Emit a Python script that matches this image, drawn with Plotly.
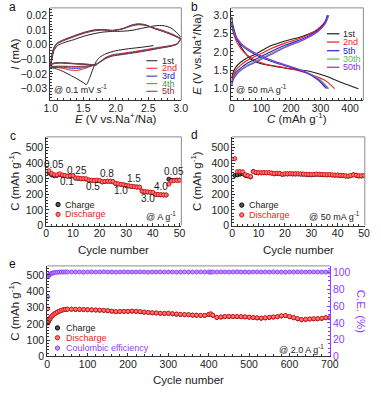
import plotly.graph_objects as go

FONT = "Liberation Sans, Arial, sans-serif"
W, H = 381, 393

# ---------- panel a: CV curves @ 0.1 mV/s (E in V, I in mA) ----------
CV_E_FLAT = [1.7, 1.55, 1.4, 1.25, 1.15, 1.05, 1.0]
CV_E_ANODIC = [1.0, 1.02, 1.05, 1.1, 1.2, 1.35, 1.5, 1.65, 1.8, 1.95, 2.1, 2.25, 2.35, 2.45, 2.6, 2.75, 2.9, 3.0]
CV_E_CATHODIC = [3.0, 2.95, 2.85, 2.7, 2.5, 2.3, 2.1, 1.95, 1.85, 1.75, 1.7, 1.6, 1.5, 1.4, 1.3, 1.2, 1.1, 1.0]

cv1_cath_e = [2.58, 2.4, 2.2, 2.0, 1.85, 1.75, 1.7, 1.65, 1.6, 1.55, 1.5, 1.4, 1.3, 1.2, 1.1, 1.0]
cv1_cath_i = [-0.0007, -0.0018, -0.0028, -0.0042, -0.0062, -0.0088, -0.0115, -0.0165, -0.0225, -0.0272,
              -0.0258, -0.0232, -0.0208, -0.0185, -0.0167, -0.0156]
cv1_anod_e = [1.0, 1.02, 1.05, 1.1, 1.2, 1.35, 1.5, 1.65, 1.8, 1.95, 2.1, 2.25, 2.4, 2.55, 2.65, 2.75, 2.85, 2.95, 3.0]
cv1_anod_i = [-0.0156, -0.0095, -0.004, -0.0008, 0.0013, 0.0033, 0.0056, 0.0073, 0.0085, 0.009, 0.0091,
              0.0097, 0.0111, 0.0124, 0.013, 0.0128, 0.0113, 0.0077, 0.005]

cv2_flat = [-0.0138, -0.0133, -0.0129, -0.0125, -0.0122, -0.0126, -0.0135]
cv2_anod = [-0.0135, -0.0075, -0.0025, 0.0005, 0.0027, 0.0052, 0.0075, 0.0092, 0.0099, 0.0095, 0.0106,
            0.0128, 0.0135, 0.0131, 0.0113, 0.0093, 0.0066, 0.0042]
cv2_cath = [0.0042, 0.0008, -0.0006, -0.0016, -0.0031, -0.0046, -0.0059, -0.0069, -0.0086, -0.0118,
            -0.0133, -0.015, -0.0166, -0.0176, -0.0173, -0.0163, -0.0156, -0.0156]

cv3_flat = [-0.0139, -0.0134, -0.013, -0.0126, -0.0123, -0.0127, -0.0136]
cv3_anod = [-0.0136, -0.0072, -0.0022, 0.0008, 0.003, 0.0055, 0.0078, 0.0095, 0.0101, 0.0096, 0.0108,
            0.0134, 0.0142, 0.0136, 0.011, 0.0088, 0.0062, 0.004]
cv3_cath = [0.004, 0.0006, -0.0009, -0.002, -0.0036, -0.0051, -0.0064, -0.0074, -0.009, -0.012,
            -0.0134, -0.0147, -0.0157, -0.0162, -0.016, -0.0155, -0.0152, -0.0153]

cv4_flat = [-0.014, -0.0135, -0.0131, -0.0127, -0.0124, -0.0128, -0.0137]
cv4_anod = [-0.0137, -0.007, -0.002, 0.001, 0.0032, 0.0057, 0.008, 0.0097, 0.0102, 0.0096, 0.0107,
            0.0131, 0.0138, 0.0134, 0.0109, 0.0087, 0.0061, 0.0039]
cv4_cath = [0.0039, 0.0005, -0.001, -0.0022, -0.0038, -0.0053, -0.0066, -0.0076, -0.0092, -0.0121,
            -0.0135, -0.0145, -0.0151, -0.0154, -0.0153, -0.015, -0.0149, -0.015]

cv5_flat = [-0.0141, -0.0136, -0.0132, -0.0128, -0.0125, -0.0129, -0.0138]
cv5_anod = [-0.0138, -0.0068, -0.0018, 0.0012, 0.0034, 0.0059, 0.0082, 0.0099, 0.0103, 0.0097, 0.0107,
            0.013, 0.0137, 0.0133, 0.0108, 0.0086, 0.006, 0.0038]
cv5_cath = [0.0038, 0.0004, -0.0011, -0.0023, -0.004, -0.0055, -0.0068, -0.0078, -0.0094, -0.0122,
            -0.0136, -0.0143, -0.0147, -0.0149, -0.0148, -0.0147, -0.0147, -0.0148]

# ---------- panel b: charge/discharge profiles @ 50 mA/g ----------
gcd1_chg_c = [0, 5, 15, 30, 50, 75, 100, 130, 180, 240, 295, 318, 328]
gcd1_chg_e = [1.3, 1.45, 1.6, 1.72, 1.83, 1.92, 2.03, 2.16, 2.3, 2.43, 2.62, 2.82, 3.0]
gcd1_dis_c = [0, 2, 8, 18, 40, 72, 115, 180, 266, 320, 373, 428]
gcd1_dis_e = [2.95, 2.8, 2.6, 2.35, 2.03, 1.76, 1.65, 1.56, 1.47, 1.34, 1.16, 1.0]

gcd2_chg_c = [0, 5, 15, 30, 50, 75, 100, 130, 180, 240, 290, 315, 325]
gcd2_chg_e = [1.22, 1.38, 1.52, 1.64, 1.76, 1.86, 1.96, 2.08, 2.24, 2.4, 2.62, 2.82, 3.0]
gcd2_dis_c = [0, 2, 8, 18, 40, 72, 110, 160, 220, 280, 320, 348]
gcd2_dis_e = [2.8, 2.65, 2.45, 2.25, 2.0, 1.8, 1.68, 1.6, 1.5, 1.35, 1.2, 1.0]

gcd5_chg_c = [0, 5, 15, 30, 50, 75, 100, 130, 180, 240, 290, 315, 323]
gcd5_chg_e = [1.15, 1.3, 1.45, 1.56, 1.68, 1.78, 1.88, 2.0, 2.18, 2.36, 2.58, 2.8, 3.0]
gcd5_dis_c = [0, 2, 8, 18, 40, 70, 100, 150, 200, 250, 290, 320]
gcd5_dis_e = [2.78, 2.65, 2.5, 2.32, 2.13, 1.97, 1.85, 1.7, 1.58, 1.44, 1.25, 1.0]

gcd30_chg_c = [0, 5, 15, 30, 50, 75, 100, 130, 180, 240, 292, 318, 327]
gcd30_chg_e = [1.12, 1.26, 1.4, 1.52, 1.63, 1.73, 1.83, 1.95, 2.14, 2.33, 2.56, 2.78, 3.0]
gcd30_dis_c = [0, 2, 8, 18, 40, 70, 100, 150, 200, 250, 295, 328]
gcd30_dis_e = [2.8, 2.68, 2.53, 2.36, 2.16, 2.0, 1.88, 1.72, 1.6, 1.46, 1.27, 1.0]

gcd50_chg_c = [0, 5, 15, 30, 50, 75, 100, 130, 180, 240, 290, 316, 325]
gcd50_chg_e = [1.1, 1.24, 1.37, 1.49, 1.6, 1.7, 1.8, 1.92, 2.12, 2.32, 2.55, 2.78, 3.0]
gcd50_dis_c = [0, 2, 8, 18, 40, 70, 100, 150, 200, 250, 292, 325]
gcd50_dis_e = [2.8, 2.68, 2.54, 2.37, 2.17, 2.01, 1.89, 1.73, 1.6, 1.45, 1.26, 1.0]

# ---------- panel c: rate capability ----------
rate_cycles = list(range(1, 51))
rate_chg = [338, 325, 320, 322, 328, 322, 320, 316, 318, 319, 304, 303, 300, 300, 299,
            291, 290, 289, 290, 288, 280, 283, 284, 284, 282, 270, 267, 264, 261, 257,
            254, 251, 249, 247, 246, 220, 217, 215, 214, 212, 200, 198, 197, 196, 196,
            298, 291, 291, 292, 292]
rate_dis = [352, 335, 327, 326, 333, 325, 322, 318, 320, 321, 306, 305, 301, 302, 300,
            293, 291, 290, 292, 289, 281, 284, 286, 285, 283, 271, 268, 265, 262, 258,
            255, 252, 250, 248, 247, 221, 218, 216, 215, 213, 201, 199, 198, 197, 197,
            266, 286, 290, 290, 291]
rate_labels = ["0.05", "0.1", "0.25", "0.5", "0.8", "1.0", "1.5", "3.0", "4.0", "0.05"]
rate_label_x = [3, 7.8, 11.5, 17.7, 22.9, 28, 33, 38, 43, 48]
rate_label_y = [392, 280, 355, 250, 335, 222, 300, 173, 248, 350]

# ---------- panel d: cycling @ 50 mA/g ----------
cyc_cycles = list(range(1, 51))
cyc_chg = [322, 325, 330, 333, 322, 318, 312, 348, 340, 338, 338, 339, 338, 338, 336,
           332, 335, 334, 328, 331, 331, 332, 331, 331, 331, 330, 329, 328, 327, 326,
           327, 329, 328, 327, 326, 325, 326, 324, 323, 323, 321, 320, 318, 316, 320,
           326, 322, 318, 318, 320]
cyc_dis = [430, 347, 347, 346, 327, 321, 315, 346, 342, 340, 340, 341, 340, 340, 338,
           334, 337, 336, 330, 333, 333, 334, 333, 333, 333, 332, 331, 330, 329, 328,
           329, 331, 330, 329, 328, 327, 328, 326, 325, 325, 323, 322, 320, 318, 322,
           326, 324, 320, 320, 322]

# ---------- panel e: long cycling @ 2.0 A/g ----------
long_cycles = [1, 2, 3, 5, 7, 10, 13, 16, 20, 25, 30, 35, 40, 45, 50,
               60, 70, 80, 90, 100, 110, 120, 130, 140, 150, 160, 170, 180, 190, 200,
               210, 220, 230, 240, 250, 260, 270, 280, 290, 300, 310, 320, 330, 340, 350,
               360, 370, 380, 390, 400, 405, 410, 420, 430, 440, 450, 460, 470, 480, 490,
               500, 510, 520, 530, 540, 550, 560, 570, 580, 590, 600, 610, 620, 630, 640,
               650, 660, 670, 680, 690, 700]
long_dis = [292, 212, 218, 226, 234, 243, 251, 258, 265, 272, 278, 283, 287, 289, 290,
            290, 289, 289, 288, 287, 286, 285, 284, 283, 281, 278, 275, 276, 277, 277,
            278, 277, 275, 272, 270, 268, 267, 265, 264, 265, 262, 260, 258, 257, 256,
            254, 253, 252, 252, 258, 261, 253, 240, 242, 245, 246, 245, 245, 244, 243,
            241, 239, 237, 235, 237, 240, 242, 244, 249, 251, 245, 238, 232, 226, 228,
            230, 231, 232, 234, 238, 238]
long_chg = [204, 208, 215, 224, 232, 242, 250, 257, 264, 271, 277, 282, 286, 288, 289,
            289, 288, 288, 287, 286, 285, 284, 283, 282, 280, 277, 274, 275, 276, 276,
            277, 276, 274, 271, 269, 267, 266, 264, 263, 264, 261, 259, 257, 256, 255,
            253, 252, 251, 251, 257, 260, 252, 239, 241, 244, 245, 244, 244, 243, 242,
            240, 238, 236, 234, 236, 239, 241, 243, 248, 250, 244, 237, 231, 225, 227,
            229, 230, 231, 233, 237, 237]
long_ce = [71, 95, 96.5, 97.5, 98.2, 98.9, 99.4, 99.8, 100.1, 100.4, 100.6, 100.7, 100.6, 100.8, 100.7,
           100.6, 100.8, 100.7, 100.5, 100.7, 100.8, 100.6, 100.7, 100.9, 100.6, 100.7, 100.5, 100.7, 100.8, 100.6,
           100.7, 100.6, 100.8, 100.7, 100.5, 100.7, 100.6, 100.8, 100.7, 100.6, 100.7, 100.5, 100.6, 100.8, 100.7,
           100.6, 100.7, 100.8, 100.6, 100.7, 100.5, 100.7, 100.6, 100.8, 100.7, 100.6, 100.7, 100.9, 100.6, 100.7,
           100.5, 100.7, 100.8, 100.6, 100.7, 100.6, 100.8, 100.7, 100.6, 100.5, 100.7, 100.6, 100.8, 100.7, 100.6,
           100.7, 100.8, 100.6, 100.7, 100.6, 100.7]

BLACK = "#1e1e1e"
RED = "#f01c1c"
BLUE = "#2222cc"
GREEN = "#3c9c3c"
GREEN_LT = "#5cb85c"
MAROON = "#8b2a45"
PURPLE = "#8a30e8"
CE_PURPLE = "#8f3cff"
FRAME = "#8c8c8c"


def fx(p):
    return p / W


def fy(p):
    return 1 - p / H


fig = go.Figure()

# panel a traces
fig.add_trace(go.Scatter(x=cv1_cath_e + cv1_anod_e, y=cv1_cath_i + cv1_anod_i, mode="lines",
                         line=dict(color=BLACK, width=1, shape="spline", smoothing=0.6),
                         xaxis="x", yaxis="y"))
for fl, an, ca, col in [(cv2_flat, cv2_anod, cv2_cath, RED), (cv3_flat, cv3_anod, cv3_cath, BLUE),
                        (cv4_flat, cv4_anod, cv4_cath, GREEN), (cv5_flat, cv5_anod, cv5_cath, MAROON)]:
    fig.add_trace(go.Scatter(x=CV_E_FLAT + CV_E_ANODIC + CV_E_CATHODIC, y=fl + an + ca, mode="lines",
                             line=dict(color=col, width=1, shape="spline", smoothing=0.6),
                             xaxis="x", yaxis="y"))

# panel b traces
for cc, ce, dc, de, col in [
    (gcd1_chg_c, gcd1_chg_e, gcd1_dis_c, gcd1_dis_e, BLACK),
    (gcd2_chg_c, gcd2_chg_e, gcd2_dis_c, gcd2_dis_e, RED),
    (gcd5_chg_c, gcd5_chg_e, gcd5_dis_c, gcd5_dis_e, BLUE),
    (gcd30_chg_c, gcd30_chg_e, gcd30_dis_c, gcd30_dis_e, GREEN_LT),
    (gcd50_chg_c, gcd50_chg_e, gcd50_dis_c, gcd50_dis_e, PURPLE),
]:
    for xs, ys in [(cc, ce), (dc, de)]:
        fig.add_trace(go.Scatter(x=xs, y=ys, mode="lines",
                                 line=dict(color=col, width=1.1, shape="spline", smoothing=0.8),
                                 xaxis="x2", yaxis="y2"))

CHG_MK = dict(size=4, color="#555", line=dict(color="#000", width=0.8))
DIS_MK = dict(size=4, color="#ff7a7a", line=dict(color="#e01010", width=0.9))
CE_MK = dict(size=4, color="#b890ff", line=dict(color=CE_PURPLE, width=0.9))

# panel c
fig.add_trace(go.Scatter(x=rate_cycles, y=rate_chg, mode="markers", marker=CHG_MK, xaxis="x3", yaxis="y3"))
fig.add_trace(go.Scatter(x=rate_cycles, y=rate_dis, mode="markers", marker=DIS_MK, xaxis="x3", yaxis="y3"))

# panel d
fig.add_trace(go.Scatter(x=cyc_cycles, y=cyc_chg, mode="markers", marker=CHG_MK, xaxis="x4", yaxis="y4"))
fig.add_trace(go.Scatter(x=cyc_cycles, y=cyc_dis, mode="markers", marker=DIS_MK, xaxis="x4", yaxis="y4"))

# panel e
fig.add_trace(go.Scatter(x=long_cycles, y=long_chg, mode="markers", marker=CHG_MK, xaxis="x5", yaxis="y5"))
fig.add_trace(go.Scatter(x=long_cycles, y=long_dis, mode="markers", marker=DIS_MK, xaxis="x5", yaxis="y5"))
fig.add_trace(go.Scatter(x=long_cycles, y=long_ce, mode="markers", marker=CE_MK, xaxis="x5", yaxis="y6"))


def ax(**kw):
    d = dict(showline=True, linecolor="#333", linewidth=1, ticks="inside", ticklen=3, tickwidth=1,
             tickcolor="#333", showgrid=False, zeroline=False,
             tickfont=dict(family=FONT, size=10.5, color="#222"),
             minor=dict(ticks="inside", ticklen=2, tickcolor="#333"))
    d.update(kw)
    return d


def xax(**kw):
    return ax(ticklabelstandoff=-2, **kw)


fig.update_layout(
    width=W, height=H, margin=dict(l=0, r=0, t=0, b=0),
    paper_bgcolor="white", plot_bgcolor="white", showlegend=False,
    font=dict(family=FONT, color="#222"),
    xaxis=xax(domain=[fx(45), fx(182)], range=[0.99, 3.01], tickvals=[1.0, 1.5, 2.0, 2.5, 3.0],
              tickformat=".1f", anchor="y"),
    yaxis=ax(domain=[fy(102), fy(8)], range=[-0.038, 0.025], dtick=0.01, tickformat=".2f", anchor="x"),
    xaxis2=xax(domain=[fx(234), fx(372)], range=[-2, 445], dtick=100, anchor="y2"),
    yaxis2=ax(domain=[fy(102), fy(8)], range=[0.68, 3.2], dtick=0.5, tickformat=".1f", anchor="x2"),
    xaxis3=xax(domain=[fx(41), fx(182)], range=[0, 50.7], dtick=10, anchor="y3"),
    yaxis3=ax(domain=[fy(229), fy(139)], range=[0, 570], dtick=100, anchor="x3"),
    xaxis4=xax(domain=[fx(235), fx(373.5)], range=[0, 50.3], dtick=10, anchor="y4"),
    yaxis4=ax(domain=[fy(229), fy(139)], range=[0, 570], dtick=100, anchor="x4"),
    xaxis5=xax(domain=[fx(42), fx(337)], range=[0, 700], dtick=100, anchor="y5"),
    yaxis5=ax(domain=[fy(362), fy(270)], range=[0, 555], dtick=100, anchor="x5"),
    yaxis6=ax(domain=[fy(362), fy(270)], range=[0, 108], dtick=20, anchor="x5", overlaying="y5",
              side="right", linecolor=CE_PURPLE, tickcolor=CE_PURPLE,
              tickfont=dict(family=FONT, size=10.5, color=CE_PURPLE),
              minor=dict(ticks="inside", ticklen=2, tickcolor=CE_PURPLE)),
)

# grey top / right frame lines
for xa, ya, right in [("x", "y", True), ("x2", "y2", True), ("x3", "y3", True),
                      ("x4", "y4", True), ("x5", "y5", False)]:
    fig.add_shape(type="line", xref=f"{xa} domain", yref=f"{ya} domain", x0=0, x1=1, y0=1, y1=1,
                  line=dict(color=FRAME, width=1))
    if right:
        fig.add_shape(type="line", xref=f"{xa} domain", yref=f"{ya} domain", x0=1, x1=1, y0=0, y1=1,
                      line=dict(color=FRAME, width=1))


def ann(text, x, y, size=9, color="#222", xanchor="center", angle=0):
    fig.add_annotation(text=text, x=fx(x), y=fy(y), xref="paper", yref="paper", showarrow=False,
                       xanchor=xanchor, yanchor="middle", textangle=angle,
                       font=dict(family=FONT, size=size, color=color))


# panel letters
for t, x, y in [("a", 6, 7.5), ("b", 196, 7.5), ("c", 6, 138), ("d", 196, 137), ("e", 6, 268)]:
    ann(t, x, y, size=12, color="#111")

# axis titles
ann("<i>I</i> (mA)", 8, 55, size=11.5, angle=-90)
ann("<i>E</i> (V vs.Na<sup>+</sup>/Na)", 113.5, 120, size=11.5)
ann("<i>E</i> (V vs.Na<sup>+</sup>/Na)", 198, 55, size=11.5, angle=-90)
ann("<i>C</i> (mAh g<sup>-1</sup>)", 303, 120, size=11.5)
ann("C (mAh g<sup>-1</sup>)", 8, 184, size=11.5, angle=-90)
ann("Cycle number", 111.5, 254, size=11.5)
ann("C (mAh g<sup>-1</sup>)", 198, 184, size=11.5, angle=-90)
ann("Cycle number", 304, 254, size=11.5)
ann("C (mAh g<sup>-1</sup>)", 8, 316, size=11.5, angle=-90)
ann("Cycle number", 189.5, 386, size=11.5)
ann("C.E. (%)", 369, 316, size=11.5, color=CE_PURPLE, angle=90)

# condition notes
ann("@ 0.1 mV s<sup>-1</sup>", 47, 90, size=9, xanchor="left")
ann("@ 50 mA g<sup>-1</sup>", 237, 90, size=9, xanchor="left")
ann("@ A g<sup>-1</sup>", 179, 219, size=9, xanchor="right")
ann("@ 50 mA g<sup>-1</sup>", 371, 219, size=9, xanchor="right")
ann("@ 2.0 A g<sup>-1</sup>", 333, 354, size=9, xanchor="right")

# rate labels in panel c (data positions)
for t, x, y in zip(rate_labels, rate_label_x, rate_label_y):
    fig.add_annotation(text=t, x=x, y=y, xref="x3", yref="y3", showarrow=False,
                       font=dict(family=FONT, size=10, color="#222"))

# legends a and b (line samples)
for t, col, y in [("1st", BLACK, 61.7), ("2nd", RED, 69.3), ("3rd", BLUE, 77.3),
                  ("4th", GREEN, 85), ("5th", MAROON, 92.7)]:
    fig.add_shape(type="line", xref="paper", yref="paper", x0=fx(145.5), x1=fx(157), y0=fy(y), y1=fy(y),
                  line=dict(color=col, width=1))
    ann(t, 159.5, y, size=9, color=col, xanchor="left")
for t, col, y in [("1st", BLACK, 34.3), ("2nd", RED, 42.7), ("5th", BLUE, 51.5),
                  ("30th", GREEN_LT, 60), ("50th", PURPLE, 68.3)]:
    fig.add_shape(type="line", xref="paper", yref="paper", x0=fx(334), x1=fx(347), y0=fy(y), y1=fy(y),
                  line=dict(color=col, width=1.2))
    ann(t, 349, y, size=9, color=col, xanchor="left")


def legend_dot(cx, cy, fill, edge):
    fig.add_shape(type="circle", xref="paper", yref="paper", x0=fx(cx - 2.2), x1=fx(cx + 2.2),
                  y0=fy(cy + 2.2), y1=fy(cy - 2.2), fillcolor=fill, line=dict(color=edge, width=1))


# legends c, d, e (marker samples)
for cx, tx, rows in [
    (53.3, 58.5, [("Charge", "#222", 207.7, "#555", "#000"), ("Discharge", RED, 217.7, "#ff7a7a", "#e01010")]),
    (245, 250.5, [("Charge", "#222", 208.3, "#555", "#000"), ("Discharge", RED, 218.3, "#ff7a7a", "#e01010")]),
    (52.7, 59, [("Charge", "#222", 333, "#555", "#000"), ("Discharge", RED, 343, "#ff7a7a", "#e01010"),
                ("Coulombic efficiency", CE_PURPLE, 353.5, "#b890ff", CE_PURPLE)]),
]:
    for t, tcol, y, fill, edge in rows:
        legend_dot(cx, y, fill, edge)
        ann(t, tx, y, size=9, color=tcol, xanchor="left")

# the page body gets no default margin, so the figure sits at the window's corner
fig.write_html("out.html", config={"displayModeBar": False},
               post_script="document.body.style.margin='0';document.body.style.padding='0';")
